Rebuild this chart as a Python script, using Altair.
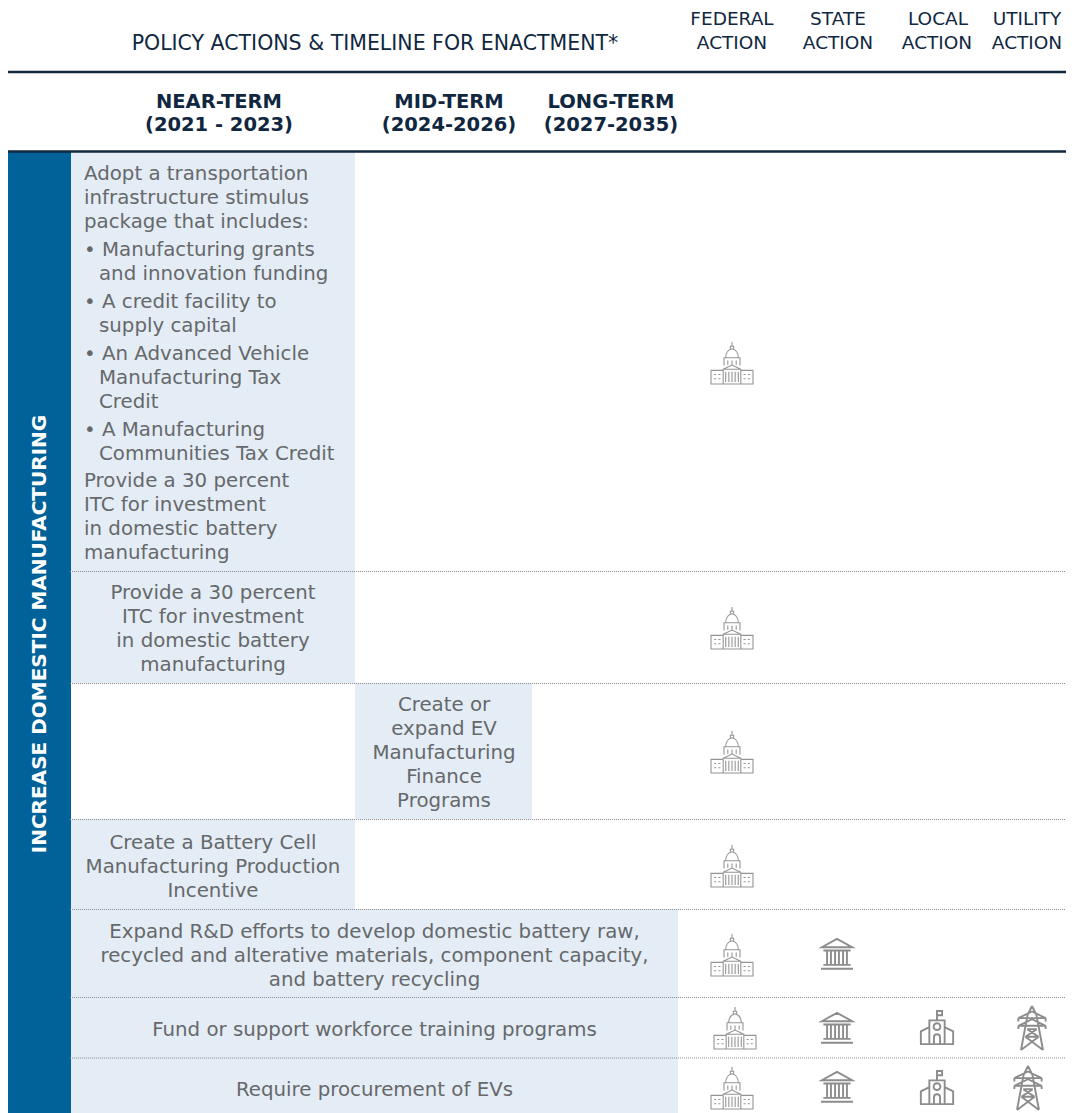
import altair as alt
import pandas as pd

NAVY = "#10273f"
BLUE = "#006298"
CELL = "#e4edf5"
BODY = "#66686b"
BODY_FONT = "DejaVu Sans"
HEAD_FONT = "DejaVu Sans"

# table grid
sidebar = {"x": 8, "x2": 71, "y": 152, "y2": 1113}
cells = [
    ("near", 71, 355, 152, 571),
    ("near", 71, 355, 571, 683),
    ("mid", 355, 532, 683, 819),
    ("near", 71, 355, 819, 909),
    ("all", 71, 678, 909, 997),
    ("all", 71, 678, 997, 1058),
    ("all", 71, 678, 1058, 1113),
]
heavy_rules = [72, 151.5]
dotted_rules = [571.5, 683.5, 819.5, 909.5, 997.5, 1058]

# header text
head_title = [("POLICY ACTIONS & TIMELINE FOR ENACTMENT*", 375, 43.5)]
head_plain = [
    ("FEDERAL", 732, 19), ("ACTION", 732, 42.5),
    ("STATE", 838, 19), ("ACTION", 838, 42.5),
    ("LOCAL", 938, 19), ("ACTION", 937, 42.5),
    ("UTILITY", 1027, 19), ("ACTION", 1027, 42.5),
]
head_bold = [
    ("NEAR-TERM", 219, 101.5), ("(2021 - 2023)", 219, 125),
    ("MID-TERM", 449, 101.5), ("(2024-2026)", 449, 125),
    ("LONG-TERM", 611, 101.5), ("(2027-2035)", 611, 125),
]

# body text, left aligned
body_left = [
    ("Adopt a transportation", 84, 174),
    ("infrastructure stimulus", 84, 198),
    ("package that includes:", 84, 222),
    ("• Manufacturing grants", 84, 250),
    ("and innovation funding", 99, 274),
    ("• A credit facility to", 84, 302),
    ("supply capital", 99, 326),
    ("• An Advanced Vehicle", 84, 354),
    ("Manufacturing Tax", 99, 378),
    ("Credit", 99, 402),
    ("• A Manufacturing", 84, 430),
    ("Communities Tax Credit", 99, 454),
    ("Provide a 30 percent", 84, 481),
    ("ITC for investment", 84, 505),
    ("in domestic battery", 84, 529),
    ("manufacturing", 84, 553),
]
# body text, centred
body_center = [
    ("Provide a 30 percent", 213, 593),
    ("ITC for investment", 213, 617),
    ("in domestic battery", 213, 641),
    ("manufacturing", 213, 665),
    ("Create or", 444, 705),
    ("expand EV", 444, 729),
    ("Manufacturing", 444, 753),
    ("Finance", 444, 777),
    ("Programs", 444, 801),
    ("Create a Battery Cell", 213, 843),
    ("Manufacturing Production", 213, 867),
    ("Incentive", 213, 891),
    ("Expand R&D efforts to develop domestic battery raw,", 374.5, 932),
    ("recycled and alterative materials, component capacity,", 374.5, 956),
    ("and battery recycling", 374.5, 980),
    ("Fund or support workforce training programs", 374.5, 1030),
    ("Require procurement of EVs", 374.5, 1090),
]
side_label = ("INCREASE DOMESTIC MANUFACTURING", 40, 634)

# icon placements
capitol_at = [(732, 363), (732, 628), (732, 752), (732, 866), (732, 955), (735, 1028), (732, 1088)]
bank_at = [(837, 954), (837, 1028), (837, 1087)]
school_at = [(937, 1028), (937, 1088)]
tower_at = [(1032, 1028), (1028, 1088)]

CAPITOL = (
    "M-1 .35H-.42V1H-1ZM.42 .35H1V1H.42Z"
    "M-.85 .55h.1M-.65 .55h.1M-.85 .75h.1M-.65 .75h.1"
    "M.55 .55h.1M.75 .55h.1M.55 .75h.1M.75 .75h.1"
    "M-.42 .3H.42V1H-.42Z"
    "M-.3 .42V.9M-.15 .42V.9M0 .42V.9M.15 .42V.9M.3 .42V.9"
    "M-.42 .3L0 .1L.42 .3"
    "M-.38 .12V-.25H.38V.12M-.2 -.12V.08M0 -.12V.08M.2 -.12V.08"
    "M-.3 -.25C-.3 -.55 -.12 -.65 0 -.68C.12 -.65 .3 -.55 .3 -.25"
    "M-.08 -.68V-.8H.08V-.68M0 -.8V-1"
)
BANK = (
    "M-.95 -.42L0 -.95L.95 -.42Z"
    "M-.85 -.22H.85"
    "M-.62 -.22V.62M-.38 -.22V.62M-.12 -.22V.62M.12 -.22V.62M.38 -.22V.62M.62 -.22V.62"
    "M-.85 .68H.85M-1 .92H1"
)
SCHOOL = (
    "M-.45 .95V-.45H.45V.95"
    "M0 -.45V-1H.3V-.75H0"
    "M.2 -.08A.2 .2 0 1 1 -.2 -.08A.2 .2 0 1 1 .2 -.08"
    "M-.45 -.05L-.95 .2V.92M.45 -.05L.95 .2V.92"
    "M-1 .95H1"
    "M-.18 .9V.55A.18 .18 0 0 1 .18 .55V.9"
)
TOWER = (
    "M0 -1L-.2 -.6L-.5 1M0 -1L.2 -.6L.5 1"
    "M-.62 -.45L0 -.75L.62 -.45L-.62 -.45"
    "M-.62 -.1L0 -.4L.62 -.1L-.62 -.1"
    "M-.62 -.45V-.3M.62 -.45V-.3M-.62 -.1V.05M.62 -.1V.05"
    "M-.22 .05H.22M-.3 .4H.3"
    "M-.22 .05L.3 .4M.22 .05L-.3 .4"
    "M-.3 .4L.5 1M.3 .4L-.5 1"
)

X = alt.X("x:Q", scale=alt.Scale(domain=[8, 1066], nice=False, zero=False), axis=None)
Y = alt.Y("y:Q", scale=alt.Scale(domain=[1113, 8], nice=False, zero=False), axis=None)


def text_layer(rows, **mark):
    df = pd.DataFrame(rows, columns=["text", "x", "y"])
    return alt.Chart(df).mark_text(baseline="middle", **mark).encode(x=X, y=Y, text="text:N")


def icon_layer(places, path, side, width, color):
    df = pd.DataFrame(places, columns=["x", "y"])
    return alt.Chart(df).mark_point(
        shape=path, size=side * side, filled=False, stroke=color, strokeWidth=width, opacity=1
    ).encode(x=X, y=Y)


cell_df = pd.DataFrame(cells, columns=["term", "x", "x2", "y", "y2"])
cell_layer = alt.Chart(cell_df).mark_rect(color=CELL).encode(x=X, x2="x2:Q", y=Y, y2="y2:Q")
side_layer = alt.Chart(pd.DataFrame([sidebar])).mark_rect(color=BLUE).encode(x=X, x2="x2:Q", y=Y, y2="y2:Q")

heavy = alt.Chart(pd.DataFrame({"y": heavy_rules, "x": 8, "x2": 1066})).mark_rule(
    color=NAVY, size=2.5
).encode(x=X, x2="x2:Q", y=Y)
dotted = alt.Chart(pd.DataFrame({"y": dotted_rules, "x": 70, "x2": 1066})).mark_rule(
    color="#8c8c8c", size=1, strokeDash=[1, 1]
).encode(x=X, x2="x2:Q", y=Y)

chart = alt.layer(
    cell_layer,
    side_layer,
    heavy,
    dotted,
    text_layer(head_title, font=HEAD_FONT, fontSize=20.5, color=NAVY, align="center"),
    text_layer(head_plain, font=HEAD_FONT, fontSize=18.5, color=NAVY, align="center"),
    text_layer(head_bold, font=HEAD_FONT, fontSize=19.5, fontWeight="bold", color=NAVY, align="center"),
    text_layer(body_left, font=BODY_FONT, fontSize=19.8, color=BODY, align="left"),
    text_layer(body_center, font=BODY_FONT, fontSize=19.8, color=BODY, align="center"),
    text_layer([side_label], font=HEAD_FONT, fontSize=20, fontWeight="bold", color="white", align="center", angle=270),
    icon_layer(capitol_at, CAPITOL, 42, 1.1, "#949494"),
    icon_layer(bank_at, BANK, 32, 1.9, "#8c8c8c"),
    icon_layer(school_at, SCHOOL, 34, 1.9, "#8c8c8c"),
    icon_layer(tower_at, TOWER, 44, 1.9, "#8c8c8c"),
).properties(
    width=1058, height=1105, padding=0, autosize=alt.AutoSizeParams(type="none")
).configure_view(stroke=None)

chart.save("out.html", embed_options={"renderer": "svg", "actions": False})
